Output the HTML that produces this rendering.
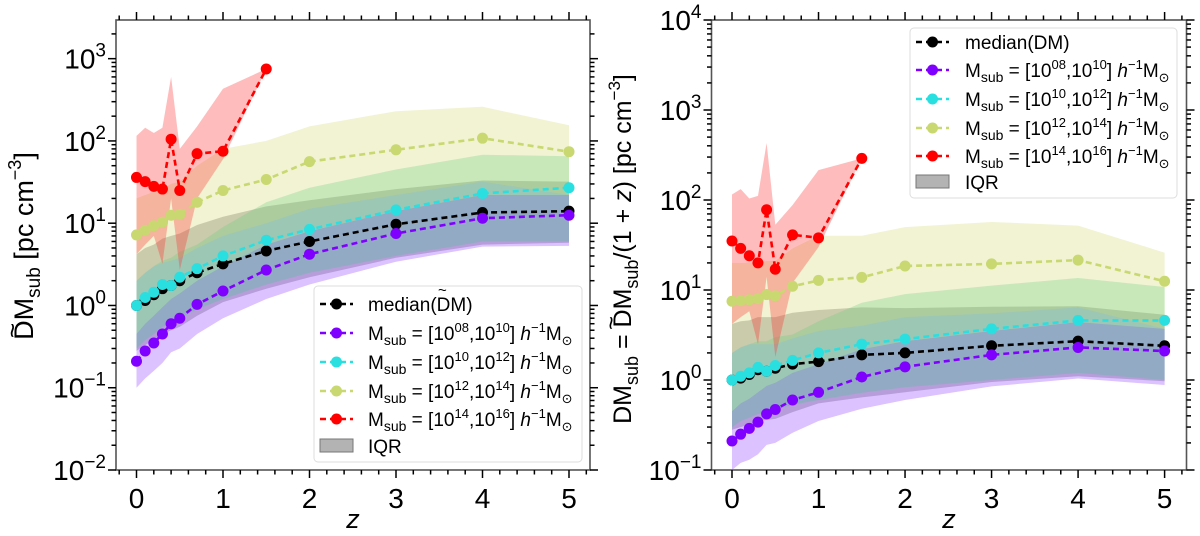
<!DOCTYPE html>
<html><head><meta charset="utf-8">
<style>
html,body{margin:0;padding:0;background:#fff;}
svg{display:block;font-family:"Liberation Sans","DejaVu Sans",sans-serif;}
</style></head>
<body>
<svg id="fig" width="1200" height="536" viewBox="0 0 1200 536" xmlns="http://www.w3.org/2000/svg"></svg>
<script>
// ---- data ----
const zVals = [0,0.1,0.2,0.3,0.4,0.5,0.7,1,1.5,2,3,4,5];
const zRed = [0,0.1,0.2,0.3,0.4,0.5,0.7,1,1.5];
const xTicks = [0,1,2,3,4,5];

// left panel (DM~_sub)
const L_median = [1.0,1.15,1.35,1.6,1.75,2.0,2.5,3.2,4.6,6.0,9.7,13.5,14];
const L_medLo = [0.28,0.33,0.38,0.45,0.5,0.55,0.75,1.1,1.6,2.2,3.8,5.5,5.8];
const L_medHi = [4.2,5,5.5,6.5,7,7.5,9.5,12,16,19,26,33,32];
const L_purple = [0.21,0.28,0.35,0.45,0.6,0.7,1.03,1.5,2.7,4.2,7.5,11.5,12.5];
const L_purLo = [0.1,0.13,0.16,0.2,0.27,0.3,0.45,0.7,1.2,1.8,3.4,5.2,5.3];
const L_purHi = [0.45,0.6,0.75,0.95,1.2,1.4,2.0,3.0,5.5,8,14,22,22];
const L_cyan = [1.0,1.25,1.45,1.8,1.75,2.2,2.8,4.0,6.2,8.4,14.5,23,27];
const L_cyaLo = [0.3,0.38,0.45,0.55,0.6,0.7,0.9,1.2,1.8,2.5,4.0,6,6];
const L_cyaHi = [2.0,2.5,3,3.5,3.8,4.5,5.5,9,18,27,45,68,65];
const L_yellow = [7.2,8.2,9.3,10.3,12.5,12.8,18,25,34,56,78,108,74];
const L_yelLo = [2,2.5,3,3.3,3.5,3.8,5,7,10,15,22,32,22];
const L_yelHi = [20,22,24,26,30,32,50,80,100,150,230,260,155];
const L_red = [36,32,28,26,105,25,70,75,750];
const L_redLo = [4.2,5.5,7,3.2,20,2.7,20,60,750];
const L_redHi = [115,145,125,145,600,80,150,430,750];

// right panel (DM_sub/(1+z))
const R_median = [1.0,1.05,1.15,1.3,1.25,1.35,1.5,1.6,1.9,2.0,2.4,2.7,2.4];
const R_medLo = [0.28,0.3,0.32,0.35,0.36,0.37,0.44,0.55,0.64,0.73,0.95,1.1,0.97];
const R_medHi = [4.2,4.5,4.6,5,5,5,5.6,6,6.4,6.3,6.5,6.6,5.3];
const R_purple = [0.21,0.25,0.29,0.34,0.42,0.47,0.6,0.73,1.08,1.4,1.9,2.3,2.1];
const R_purLo = [0.1,0.12,0.13,0.15,0.19,0.2,0.26,0.35,0.48,0.6,0.85,1.04,0.88];
const R_purHi = [0.45,0.55,0.62,0.73,0.86,0.93,1.2,1.5,2.2,2.7,3.5,4.4,3.7];
const R_cyan = [1.0,1.1,1.2,1.38,1.25,1.45,1.65,2.0,2.5,2.85,3.7,4.6,4.6];
const R_cyaLo = [0.3,0.35,0.38,0.42,0.43,0.47,0.53,0.6,0.72,0.83,1.0,1.2,1.0];
const R_cyaHi = [2,2.3,2.5,2.7,2.7,3,3.2,4.5,7.2,9,11.2,13.6,10.8];
const R_yellow = [7.5,7.6,7.8,8.0,8.9,8.6,11,12.8,13.8,18.5,19.5,21.5,12.5];
const R_yelLo = [2,2.3,2.5,2.5,2.5,2.5,2.9,3.5,4,5,5.5,6.4,3.7];
const R_yelHi = [20,20,20,20,21,21,29,40,40,50,57,52,26];
const R_red = [35,29,24,20,78,17,41,38,290];
const R_redLo = [4.2,5,5.8,2.5,14,1.8,12,30,290];
const R_redHi = [115,132,104,111,430,53,88,215,290];

const NS = "http://www.w3.org/2000/svg";
const svg = document.getElementById('fig');
function mk(tag, attrs, parent){
  const e = document.createElementNS(NS, tag);
  for (const k in attrs) e.setAttribute(k, attrs[k]);
  (parent||svg).appendChild(e);
  return e;
}

const C = {
  purple:'#7f00ff', cyan:'#2adfe0', yellow:'#c9d870', red:'#ff0000', black:'#000'
};
const BAND = {
  med:['#808080',0.45], purple:['#9a50ff',0.35], cyan:['#3fc98f',0.3], yellow:['#cfd66a',0.3], red:['#ff3030',0.32]
};

function panel(cfg){
  const g = mk('g',{});
  
  
  const {fl,fr,ft,fb,x0px,x5px,ymin,ymax} = cfg;
  const xs = v => x0px + (x5px-x0px)*v/5;
  const ys = v => fb - (Math.log10(v)-ymin)/(ymax-ymin)*(fb-ft);
  const clip = 'clip-'+cfg.name;
  const cp = mk('clipPath',{id:clip},g);
  mk('rect',{x:fl,y:ft,width:fr-fl,height:fb-ft},cp);
  const plot = mk('g',{'clip-path':'url(#'+clip+')'},g);

  function band(xv, lo, hi, key, nm){
    let d = '';
    xv.forEach((x,i)=>{ d += (i?'L':'M')+xs(x).toFixed(1)+','+ys(hi[i]).toFixed(1); });
    for (let i=xv.length-1;i>=0;i--) d += 'L'+xs(xv[i]).toFixed(1)+','+ys(lo[i]).toFixed(1);
    const p = mk('path',{d:d+'Z',fill:BAND[key][0],'fill-opacity':BAND[key][1],stroke:'none'},plot);
    
    
  }
  function series(xv, vals, col, nm){
    const sg = mk('g',{},plot);
    
    
    const pts = xv.map((x,i)=>xs(x).toFixed(1)+','+ys(vals[i]).toFixed(1)).join(' ');
    mk('polyline',{points:pts,fill:'none',stroke:col,'stroke-width':2.6,'stroke-dasharray':'6,4'},sg);
    xv.forEach((x,i)=>{
      const c = mk('circle',{cx:xs(x),cy:ys(vals[i]),r:5.5,fill:col},sg);
      
      
    });
  }
  const D = cfg.data;
  band(zVals, D.medLo, D.medHi, 'med', 'median-iqr-band');
  band(zVals, D.purLo, D.purHi, 'purple', 'band-1e8-1e10');
  band(zVals, D.cyaLo, D.cyaHi, 'cyan', 'band-1e10-1e12');
  band(zVals, D.yelLo, D.yelHi, 'yellow', 'band-1e12-1e14');
  band(zRed, D.redLo, D.redHi, 'red', 'band-1e14-1e16');
  series(zVals, D.median, C.black, 'median-line');
  series(zVals, D.purple, C.purple, 'series-1e8-1e10');
  series(zVals, D.cyan, C.cyan, 'series-1e10-1e12');
  series(zVals, D.yellow, C.yellow, 'series-1e12-1e14');
  series(zRed, D.red, C.red, 'series-1e14-1e16');

  const fr_ = mk('rect',{x:fl,y:ft,width:fr-fl,height:fb-ft,fill:'none',stroke:'#555','stroke-width':1.6},g);
  
  

  const tk = mk('g',{stroke:'#000','stroke-width':1.5},g);
  
  
  for (let m=-1;m<=26;m++){
    const v = m*0.2; const px = xs(v);
    if (px<fl-0.5||px>fr+0.5) continue;
    const major = Math.abs(v-Math.round(v))<1e-6;
    const len = major?8:4.5;
    mk('line',{x1:px,x2:px,y1:fb,y2:fb+len},tk);
    mk('line',{x1:px,x2:px,y1:ft,y2:ft-len},tk);
  }
  xTicks.forEach(v=>{
    const t = mk('text',{x:xs(v),y:fb+38,'text-anchor':'middle','font-size':28,fill:'#000'},g);
    t.textContent = String(v);
    
    
  });
  const ty = mk('g',{stroke:'#000','stroke-width':1.5},g);
  
  
  for (let e=Math.floor(ymin); e<=Math.ceil(ymax); e++){
    for (let k=1;k<=9;k++){
      const v = Math.log10(k)+e;
      if (v<ymin-1e-6||v>ymax+1e-6) continue;
      const py = fb - (v-ymin)/(ymax-ymin)*(fb-ft);
      const len = k===1?8:4.5;
      mk('line',{x1:fl,x2:fl-len,y1:py,y2:py},ty);
      mk('line',{x1:fr,x2:fr+len,y1:py,y2:py},ty);
    }
    if (e>=ymin-1e-6 && e<=ymax+1e-6){
      const py = fb - (e-ymin)/(ymax-ymin)*(fb-ft);
      const t = mk('text',{x:fl-10,y:py+10,'text-anchor':'end','font-size':28,fill:'#000'},g);
      
      
      const a = mk('tspan',{},t); a.textContent='10';
      const b = mk('tspan',{dy:-12,'font-size':19},t); b.textContent = e<0 ? '\u2212'+(-e) : String(e);
    }
  }
  const xl = mk('text',{x:(fl+fr)/2,y:fb+58,'text-anchor':'middle','font-size':27,'font-style':'italic',fill:'#000'},g);
  xl.textContent='z';
  
  

  const lg = mk('g',{},g);
  
  
  const L = cfg.leg;
  mk('rect',{x:L.x,y:L.y,width:L.w,height:L.h,rx:4,fill:'#fff','fill-opacity':0.8,stroke:'#ddd','stroke-width':1},lg);
  const entries = [
    ['median', C.black], ['8','10',C.purple], ['10','12',C.cyan], ['12','14',C.yellow], ['14','16',C.red]
  ];
  entries.forEach((en,i)=>{
    const cy = L.rows[i];
    const eg = mk('g',{},lg);
    
    
    const col = en[en.length-1];
    mk('line',{x1:L.lx1,x2:L.lx2,y1:cy,y2:cy,stroke:col,'stroke-width':2.6,'stroke-dasharray':'6,4'},eg);
    mk('circle',{cx:(L.lx1+L.lx2)/2,cy:cy,r:5.5,fill:col},eg);
    const t = mk('text',{x:L.tx,y:cy+7,'font-size':19,fill:'#000'},eg);
    if (i===0){
      if (cfg.tildeMedian){
        const a = mk('tspan',{},t); a.textContent='median(';
        const b = mk('tspan',{},t); b.textContent='DM';
        const c = mk('tspan',{},t); c.textContent=')';
        const tl = mk('text',{x:L.tx+70,y:cy-9,'font-size':15,fill:'#000'},eg); tl.textContent='~';
      } else t.textContent='median(DM)';
    } else {
      const lo = en[0].padStart(2,'0'), hi = en[1];
      const p = (txt,att)=>{const s=mk('tspan',att||{},t); s.textContent=txt; return s;};
      p('M'); p('sub',{dy:5,'font-size':14}); p(' = [10',{dy:-5});
      p(lo,{dy:-8,'font-size':13}); p(',10',{dy:8}); p(hi,{dy:-8,'font-size':13});
      p('] ',{dy:8}); p('h',{'font-style':'italic'}); p('\u22121',{dy:-8,'font-size':13});
      p('M',{dy:8}); p('\u2299',{dy:5,'font-size':13}); p('',{dy:-5});
    }
  });
  const ig = mk('g',{},lg);
  
  
  mk('rect',{x:L.lx1,y:L.rows[5]-7,width:L.lx2-L.lx1,height:13,fill:'#808080','fill-opacity':0.6,stroke:'#777'},ig);
  const it = mk('text',{x:L.tx,y:L.rows[5]+7,'font-size':19,fill:'#000'},ig); it.textContent='IQR';
}

panel({name:'left-panel', fl:116, fr:590, ft:20, fb:470, x0px:136.5, x5px:569, ymin:-2, ymax:3.47,
  tildeMedian:true,
  data:{median:L_median,medLo:L_medLo,medHi:L_medHi,purple:L_purple,purLo:L_purLo,purHi:L_purHi,
        cyan:L_cyan,cyaLo:L_cyaLo,cyaHi:L_cyaHi,yellow:L_yellow,yelLo:L_yelLo,yelHi:L_yelHi,
        red:L_red,redLo:L_redLo,redHi:L_redHi},
  leg:{x:314,y:286,w:268,h:176,lx1:320,lx2:353,tx:368,rows:[304,333,362,391,419,446]}});

panel({name:'right-panel', fl:711.5, fr:1186.5, ft:20, fb:470, x0px:732, x5px:1164.6, ymin:-1, ymax:4,
  tildeMedian:false,
  data:{median:R_median,medLo:R_medLo,medHi:R_medHi,purple:R_purple,purLo:R_purLo,purHi:R_purHi,
        cyan:R_cyan,cyaLo:R_cyaLo,cyaHi:R_cyaHi,yellow:R_yellow,yelLo:R_yelLo,yelHi:R_yelHi,
        red:R_red,redLo:R_redLo,redHi:R_redHi},
  leg:{x:910,y:28,w:267,h:170,lx1:916,lx2:949,tx:965,rows:[42,70,99,128,156,182]}});

(function(){
  const t1 = mk('text',{x:0,y:0,transform:'translate(33,246) rotate(-90)','text-anchor':'middle','font-size':27,fill:'#000'});
  
  
  const a = mk('tspan',{},t1); a.textContent='DM';
  const b = mk('tspan',{dy:7,'font-size':19},t1); b.textContent='sub';
  const c = mk('tspan',{dy:-7},t1); c.textContent=' [pc cm';
  const d = mk('tspan',{dy:-12,'font-size':18},t1); d.textContent='\u22123';
  const e = mk('tspan',{dy:12},t1); e.textContent=']';
  const tl = mk('text',{x:0,y:0,transform:'translate(21,338) rotate(-90)','font-size':26,fill:'#000'}); tl.textContent='~';
  
  

  const t2 = mk('text',{x:0,y:0,transform:'translate(631,249) rotate(-90)','text-anchor':'middle','font-size':25,fill:'#000'});
  
  
  const p = (txt,att)=>{const s=mk('tspan',att||{},t2); s.textContent=txt; return s;};
  p('DM'); p('sub',{dy:7,'font-size':18}); p(' = DM',{dy:-7}); p('sub',{dy:7,'font-size':18});
  p('/(1 + ',{dy:-7}); p('z',{'font-style':'italic'}); p(') [pc cm'); p('\u22123',{dy:-11,'font-size':17}); p(']',{dy:11});
  const tl2 = mk('text',{x:0,y:0,transform:'translate(619,330) rotate(-90)','font-size':24,fill:'#000'}); tl2.textContent='~';
  
  
})();
</script>
</body></html>
